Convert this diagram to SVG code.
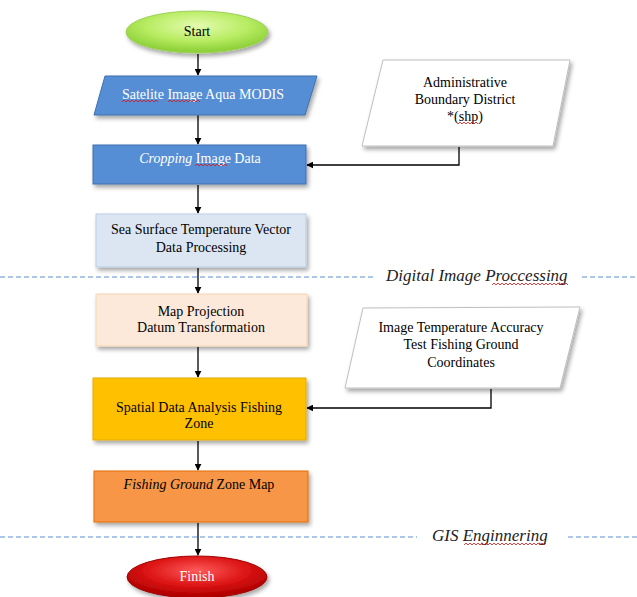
<svg xmlns="http://www.w3.org/2000/svg" width="637" height="597" viewBox="0 0 637 597">
<defs>
  <filter id="sh" x="-10%" y="-10%" width="130%" height="140%">
    <feDropShadow dx="2" dy="3" stdDeviation="2" flood-color="#000" flood-opacity="0.35"/>
  </filter>
  <radialGradient id="gGreen" cx="50%" cy="35%" r="60%">
    <stop offset="0" stop-color="#e4fbb0"/>
    <stop offset="0.6" stop-color="#b8ec62"/>
    <stop offset="1" stop-color="#8fd13a"/>
  </radialGradient>
  <radialGradient id="gRed" cx="50%" cy="35%" r="60%">
    <stop offset="0" stop-color="#ff5a5a"/>
    <stop offset="0.6" stop-color="#dc1414"/>
    <stop offset="1" stop-color="#b00000"/>
  </radialGradient>
  <marker id="ah" viewBox="0 0 10 10" refX="9" refY="5" markerWidth="7" markerHeight="7" orient="auto" markerUnits="userSpaceOnUse">
    <path d="M0,0 L10,5 L0,10 z" fill="#000"/>
  </marker>
  <style>
    text { font-family: "Liberation Serif", "Times New Roman", serif; font-size: 14px; text-anchor: middle; fill: #000; }
    .w { fill: #fff; }
    .lab { font-size: 17px; font-style: italic; fill: #222; text-anchor: start; }
    .it { font-style: italic; }
    .con { stroke: #000; stroke-width: 1.3; fill: none; }
    .dash { stroke: #5b8fcf; stroke-width: 1; stroke-dasharray: 5 3; fill: none; }
    .sq { stroke: #e01010; stroke-width: 0.8; fill: none; }
  </style>
</defs>

<!-- section dividers -->
<g id="dividers">
  <line class="dash" x1="0" y1="277" x2="373" y2="277"/>
  <line class="dash" x1="582" y1="277" x2="637" y2="277"/>
  <text class="lab" x="386" y="281">Digital Image Proccessing</text>
  <path class="sq" d="M492,285 l2,-2 l2,2 l2,-2 l2,2 l2,-2 l2,2 l2,-2 l2,2 l2,-2 l2,2 l2,-2 l2,2 l2,-2 l2,2 l2,-2 l2,2 l2,-2 l2,2 l2,-2 l2,2 l2,-2 l2,2 l2,-2 l2,2 l2,-2 l2,2 l2,-2 l2,2 l2,-2 l2,2 l2,-2 l2,2 l2,-2 l2,2 l2,-2 l2,2 l2,-2 l2,2"/>
  <line class="dash" x1="0" y1="537" x2="417" y2="537"/>
  <line class="dash" x1="568" y1="537" x2="637" y2="537"/>
  <text class="lab" x="432" y="541">GIS Enginnering</text>
  <path class="sq" d="M464,545 l2,-2 l2,2 l2,-2 l2,2 l2,-2 l2,2 l2,-2 l2,2 l2,-2 l2,2 l2,-2 l2,2 l2,-2 l2,2 l2,-2 l2,2 l2,-2 l2,2 l2,-2 l2,2 l2,-2 l2,2 l2,-2 l2,2 l2,-2 l2,2 l2,-2 l2,2 l2,-2 l2,2 l2,-2 l2,2 l2,-2 l2,2 l2,-2 l2,2 l2,-2 l2,2 l2,-2 l2,2 l2,-2"/>
</g>

<!-- connectors -->
<g id="connectors">
  <line class="con" x1="198" y1="54" x2="198" y2="75" marker-end="url(#ah)"/>
  <line class="con" x1="198" y1="115" x2="198" y2="144" marker-end="url(#ah)"/>
  <line class="con" x1="198" y1="185" x2="198" y2="213" marker-end="url(#ah)"/>
  <line class="con" x1="198" y1="268" x2="198" y2="293" marker-end="url(#ah)"/>
  <line class="con" x1="198" y1="347" x2="198" y2="377" marker-end="url(#ah)"/>
  <line class="con" x1="198" y1="441" x2="198" y2="470" marker-end="url(#ah)"/>
  <line class="con" x1="198" y1="523" x2="198" y2="555" marker-end="url(#ah)"/>
  <polyline class="con" points="459,147 459,165 307,165" marker-end="url(#ah)"/>
  <polyline class="con" points="491,389 491,408 307,408" marker-end="url(#ah)"/>
</g>

<g id="start">
  <ellipse cx="197" cy="32" rx="71" ry="21" fill="url(#gGreen)" stroke="#9ccf5a" stroke-width="1" filter="url(#sh)"/>
  <text x="197" y="36">Start</text>
</g>

<g id="satelite">
  <polygon points="105,76 317,76 305,115 94,115" fill="#558ed5" stroke="#3f6fae" stroke-width="1" filter="url(#sh)"/>
  <text class="w" x="203" y="99">Satelite  Image  Aqua MODIS</text>
  <path class="sq" d="M122,102 l2,-2 l2,2 l2,-2 l2,2 l2,-2 l2,2 l2,-2 l2,2 l2,-2 l2,2 l2,-2 l2,2 l2,-2 l2,2 l2,-2 l2,2 l2,-2 l2,2 M168,102 l2,-2 l2,2 l2,-2 l2,2 l2,-2 l2,2 l2,-2 l2,2 l2,-2 l2,2 l2,-2 l2,2 l2,-2 l2,2 l2,-2 l2,2"/>
</g>

<g id="admin">
  <polygon points="383,60 570,60 553,146 362,146" fill="#fff" stroke="#bfbfbf" stroke-width="1" filter="url(#sh)"/>
  <text x="465" y="87">Administrative</text>
  <text x="465" y="104">Boundary District</text>
  <text x="465" y="121">*(shp)</text>
  <path class="sq" d="M458,124 l2,-2 l2,2 l2,-2 l2,2 l2,-2 l2,2 l2,-2 l2,2 l2,-2 l2,2"/>
</g>

<g id="cropping">
  <rect x="93" y="145" width="213" height="39" fill="#558ed5" stroke="#3f6fae" stroke-width="1" filter="url(#sh)"/>
  <text class="w" x="200" y="163"><tspan class="it">Cropping</tspan> Image Data</text>
  <path class="sq" d="M195,166 l2,-2 l2,2 l2,-2 l2,2 l2,-2 l2,2 l2,-2 l2,2 l2,-2 l2,2 l2,-2 l2,2 l2,-2 l2,2 l2,-2 l2,2"/>
</g>

<g id="sst">
  <rect x="96" y="214" width="210" height="53" fill="#dce6f2" stroke="#b9cde5" stroke-width="1" filter="url(#sh)"/>
  <text x="201" y="234">Sea Surface Temperature  Vector</text>
  <text x="201" y="252">Data Processing</text>
</g>

<g id="mapproj">
  <rect x="96" y="294" width="211" height="52" fill="#fde9d9" stroke="#fbd4b4" stroke-width="1" filter="url(#sh)"/>
  <text x="201" y="316">Map Projection</text>
  <text x="201" y="332">Datum  Transformation</text>
</g>

<g id="accuracy">
  <polygon points="363,308 580,307 560,388 345,388" fill="#fff" stroke="#bfbfbf" stroke-width="1" filter="url(#sh)"/>
  <text x="461" y="332">Image Temperature  Accuracy</text>
  <text x="461" y="349">Test Fishing Ground</text>
  <text x="461" y="367">Coordinates</text>
</g>

<g id="spatial">
  <rect x="93" y="378" width="213" height="62" fill="#ffc000" stroke="#e6ac00" stroke-width="1" filter="url(#sh)"/>
  <text x="199" y="412">Spatial Data Analysis Fishing</text>
  <text x="199" y="428">Zone</text>
</g>

<g id="fishingmap">
  <rect x="94" y="471" width="214" height="51" fill="#f79646" stroke="#e46c0a" stroke-width="1" filter="url(#sh)"/>
  <text x="199" y="489"><tspan class="it">Fishing  Ground</tspan>  Zone Map</text>
</g>

<g id="finish">
  <ellipse cx="197" cy="577" rx="70" ry="21" fill="url(#gRed)" stroke="#a00000" stroke-width="1" filter="url(#sh)"/>
  <text class="w" x="197" y="581">Finish</text>
</g>
</svg>
